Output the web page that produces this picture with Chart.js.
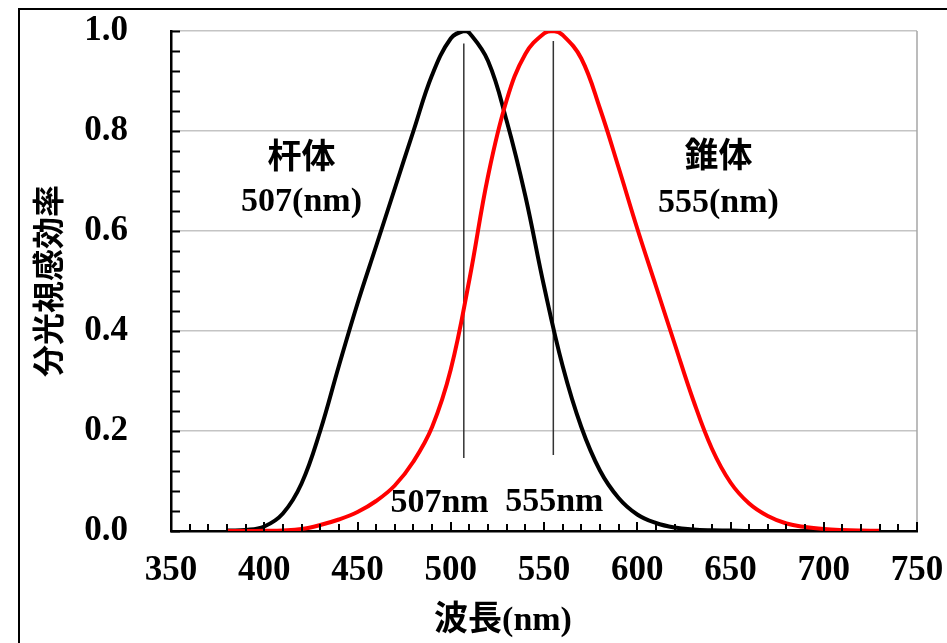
<!DOCTYPE html>
<html>
<head>
<meta charset="utf-8">
<script src="https://cdn.jsdelivr.net/npm/chart.js@4"></script>
<style>
  html, body { margin: 0; padding: 0; background: #fff; }
  #wrap { width: 947px; height: 643px; }
</style>
</head>
<body>
<div id="wrap"><canvas id="chartCanvas" width="947" height="643"></canvas></div>
<script>
// --- data ---
const rodNm = [380, 390, 400, 410, 420, 430, 440, 450, 460, 470, 480, 490, 500, 507, 510, 520, 530, 540, 550, 560, 570, 580, 590, 600, 610, 620, 630, 640, 650, 660, 680, 700, 730];
const rodEff = [0.001, 0.002, 0.009, 0.035, 0.095, 0.2, 0.33, 0.455, 0.57, 0.685, 0.8, 0.912, 0.985, 1.0, 0.996, 0.94, 0.82, 0.67, 0.49, 0.33, 0.208, 0.121, 0.066, 0.033, 0.016, 0.007, 0.003, 0.0015, 0.001, 0, 0, 0, 0];

const coneNm = [380, 390, 400, 410, 420, 430, 440, 450, 460, 470, 480, 490, 500, 510, 520, 530, 540, 550, 555, 560, 570, 580, 590, 600, 610, 620, 630, 640, 650, 660, 670, 680, 690, 700, 710, 720, 730];
const coneEff = [0, 0, 0.0004, 0.0012, 0.004, 0.012, 0.023, 0.038, 0.06, 0.091, 0.139, 0.208, 0.323, 0.503, 0.71, 0.862, 0.954, 0.995, 1.0, 0.992, 0.945, 0.845, 0.727, 0.605, 0.49, 0.375, 0.262, 0.165, 0.097, 0.055, 0.03, 0.015, 0.008, 0.004, 0.002, 0.001, 0.0005];

// peak marker lines
const peakNm = [507, 555];
const peakTop = [0.975, 0.98];
const peakBottom = [0.146, 0.152];

// text notes: [text, nm, value]
const notes = [
  ["杆体", 420, 0.744],
  ["507(nm)", 420, 0.658],
  ["錐体", 643.5, 0.746],
  ["555(nm)", 643.5, 0.656],
  ["507nm", 494, 0.056],
  ["555nm", 555.5, 0.058]
];

const xTitle = "波長(nm)";
const yTitle = "分光視感効率";

const FONT = "'Liberation Serif', 'Noto Sans CJK JP', serif";

const toPoints = (xs, ys) => xs.map((x, i) => ({ x, y: ys[i] }));

// --- extra drawing: inward ticks, frame, notes, titles ---
const decorations = {
  id: "decorations",
  afterDraw(chart) {
    const { ctx, chartArea } = chart;
    const xs = chart.scales.x;
    const ys = chart.scales.y;
    ctx.save();

    // right plot border
    ctx.strokeStyle = "#a6a6a6";
    ctx.lineWidth = 1.5;
    ctx.beginPath();
    ctx.moveTo(chartArea.right, chartArea.top);
    ctx.lineTo(chartArea.right, chartArea.bottom);
    ctx.stroke();

    // y ticks every 0.04, pointing in
    ctx.strokeStyle = "#000";
    ctx.lineWidth = 2;
    ctx.beginPath();
    for (let i = 0; i <= 25; i++) {
      const py = Math.round(ys.getPixelForValue(i * 0.04)) + 0.5;
      ctx.moveTo(chartArea.left, py);
      ctx.lineTo(chartArea.left + 9, py);
    }
    // x ticks every 10 nm, pointing up
    for (let nm = 350; nm <= 750; nm += 10) {
      const px = Math.round(xs.getPixelForValue(nm));
      const len = nm % 50 === 0 ? 9 : 7;
      ctx.moveTo(px, chartArea.bottom);
      ctx.lineTo(px, chartArea.bottom - len);
    }
    ctx.stroke();

    // outer frame
    ctx.lineWidth = 2;
    ctx.strokeStyle = "#000";
    ctx.strokeRect(19, 9, 1200, 1200);

    // notes
    ctx.fillStyle = "#000";
    ctx.textAlign = "center";
    ctx.textBaseline = "middle";
    ctx.font = "bold 34px " + FONT;
    notes.forEach(([t, nm, v]) => {
      ctx.fillText(t, xs.getPixelForValue(nm), ys.getPixelForValue(v));
    });

    // axis titles
    ctx.font = "bold 34px " + FONT;
    ctx.fillText(xTitle, 503, 621);
    ctx.translate(52, 281);
    ctx.rotate(-Math.PI / 2);
    ctx.font = "bold 32px " + FONT;
    ctx.fillText(yTitle, 0, 0);

    ctx.restore();
  }
};

const datasets = [
  {
    label: "錐体",
    data: toPoints(coneNm, coneEff),
    borderColor: "#ff0000",
    borderWidth: 4,
    pointRadius: 0,
    tension: 0.4
  },
  {
    label: "杆体",
    data: toPoints(rodNm, rodEff),
    borderColor: "#000000",
    borderWidth: 4,
    pointRadius: 0,
    tension: 0.4
  }
];

peakNm.forEach((nm, i) => {
  datasets.push({
    label: nm + "nm",
    data: [{ x: nm, y: peakBottom[i] }, { x: nm, y: peakTop[i] }],
    borderColor: "#333333",
    borderWidth: 1.5,
    pointRadius: 0
  });
});

new Chart(document.getElementById("chartCanvas"), {
  type: "line",
  data: { datasets },
  options: {
    responsive: false,
    animation: false,
    devicePixelRatio: 1,
    layout: { padding: { top: 31, right: 30, left: 0, bottom: 0 } },
    plugins: {
      legend: { display: false },
      tooltip: { enabled: false }
    },
    scales: {
      x: {
        type: "linear",
        min: 350,
        max: 750,
        afterFit: s => {
          s.height = 112;
          s.paddingLeft = 0;
          s.paddingRight = 0;
        },
        grid: { display: false, drawTicks: false },
        border: { color: "#000", width: 2.5 },
        ticks: {
          stepSize: 50,
          padding: 19,
          color: "#000",
          font: { family: FONT, size: 35, weight: "bold" }
        }
      },
      y: {
        min: 0,
        max: 1,
        afterFit: s => {
          s.width = 171;
          s.paddingTop = 0;
          s.paddingBottom = 0;
        },
        grid: {
          drawTicks: false,
          color: c => (c.tick && c.tick.value === 0 ? "rgba(0,0,0,0)" : "#c4c4c4"),
          lineWidth: 1.5
        },
        border: { color: "#000", width: 2.5 },
        ticks: {
          stepSize: 0.2,
          padding: 43,
          color: "#000",
          font: { family: FONT, size: 35, weight: "bold" },
          callback: v => v.toFixed(1)
        }
      }
    }
  },
  plugins: [decorations]
});
</script>
</body>
</html>
